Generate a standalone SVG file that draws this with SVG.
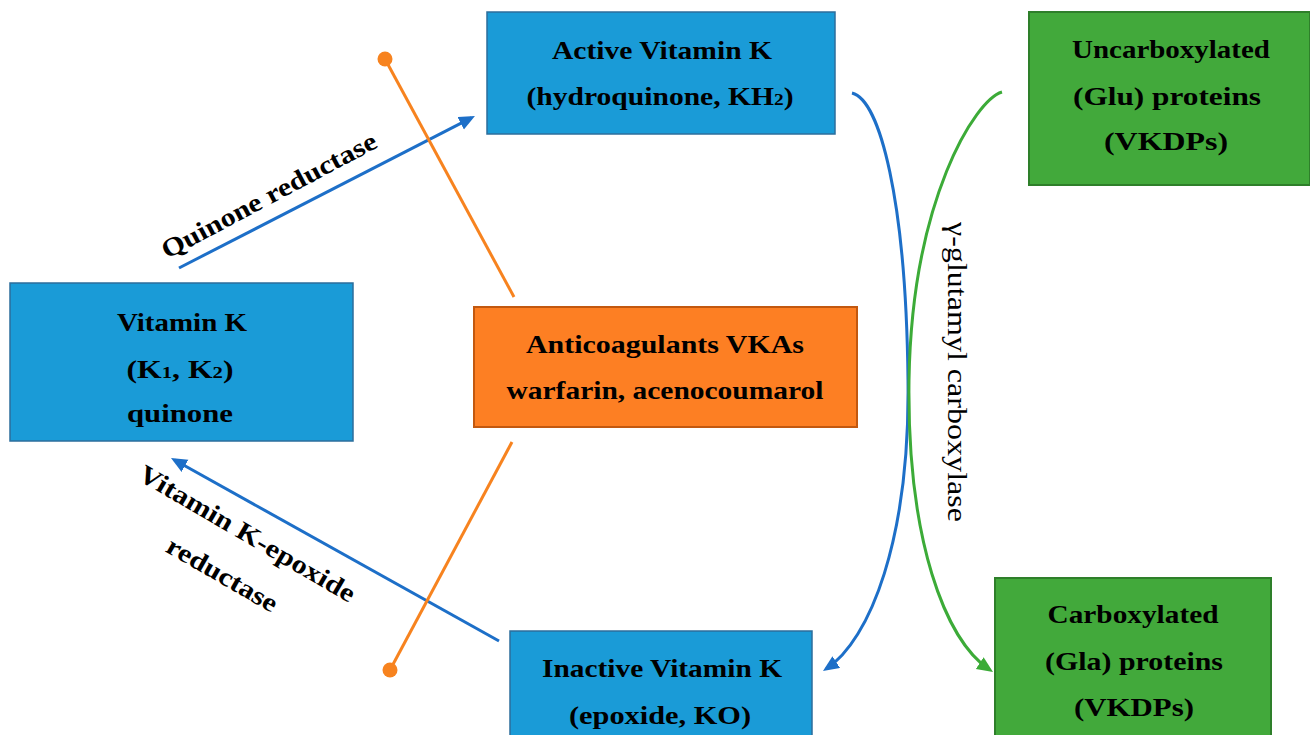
<svg xmlns="http://www.w3.org/2000/svg" width="1310" height="735" viewBox="0 0 1310 735">
<style>
  .bluebox { fill: #1a9bd7; stroke: #2c6e9c; stroke-width: 1.5; }
  .orangebox { fill: #fd7f23; stroke: #c2580f; stroke-width: 2; }
  .greenbox { fill: #42a93b; stroke: #2e7f2a; stroke-width: 2; }
  .lbl { font-family: "Liberation Serif", "Times New Roman", serif; font-weight: bold; font-size: 26px; fill: #000; text-anchor: middle; }
  .sub { font-size: 17px; }
  .vt { font-family: "Liberation Serif", "Times New Roman", serif; font-size: 28px; fill: #000; text-anchor: middle; }
  .bl { stroke: #1d6fc8; stroke-width: 3; fill: none; }
  .gr { stroke: #3cab38; stroke-width: 3; fill: none; }
  .or { stroke: #f7831f; stroke-width: 3; fill: none; }
</style>
<defs>
  <marker id="ab" markerUnits="userSpaceOnUse" markerWidth="18" markerHeight="16" refX="12" refY="7" orient="auto">
    <path d="M0,0 L16,7 L0,14 z" fill="#1d6fc8"/>
  </marker>
  <marker id="ag" markerUnits="userSpaceOnUse" markerWidth="18" markerHeight="16" refX="12" refY="7" orient="auto">
    <path d="M0,0 L16,7 L0,14 z" fill="#3cab38"/>
  </marker>
</defs>
<rect width="1310" height="735" fill="#fff"/>

<g id="connectors">
  <line class="bl" x1="179" y1="268" x2="471.4" y2="117.8" marker-end="url(#ab)"/>
  <line class="bl" x1="499" y1="641" x2="174.5" y2="460" marker-end="url(#ab)"/>
  <path class="bl" d="M852,93 C880,100 906,200 908,380 C910,540 870,640 826.3,668.8" marker-end="url(#ab)"/>
  <path class="gr" d="M1002,92 C975,100 912,200 909,380 C907,540 945,640 989.7,669.8" marker-end="url(#ag)"/>
  <line class="or" x1="385" y1="59" x2="514" y2="297"/>
  <circle cx="385" cy="59" r="7.5" fill="#f7831f"/>
  <line class="or" x1="512" y1="442" x2="390" y2="670"/>
  <circle cx="390" cy="670" r="7.5" fill="#f7831f"/>
  <text class="lbl" transform="translate(273,203) rotate(-28)" textLength="240" lengthAdjust="spacingAndGlyphs">Quinone reductase</text>
  <text class="lbl" transform="translate(243,541) rotate(30.3)" textLength="246" lengthAdjust="spacingAndGlyphs">Vitamin K-epoxide</text>
  <text class="lbl" transform="translate(218,582) rotate(30)" textLength="124" lengthAdjust="spacingAndGlyphs">reductase</text>
  <text class="vt" transform="translate(948,372) rotate(90)" textLength="300" lengthAdjust="spacingAndGlyphs">γ-glutamyl carboxylase</text>
</g>

<g id="active">
  <rect class="bluebox" x="487" y="12" width="348" height="122"/>
  <text class="lbl" x="662" y="59" textLength="220" lengthAdjust="spacingAndGlyphs">Active Vitamin K</text>
  <text class="lbl" x="660" y="105" textLength="267" lengthAdjust="spacingAndGlyphs">(hydroquinone, KH<tspan class="sub">2</tspan>)</text>
</g>

<g id="vitk">
  <rect class="bluebox" x="10" y="283" width="343" height="158"/>
  <text class="lbl" x="182" y="331" textLength="130" lengthAdjust="spacingAndGlyphs">Vitamin K</text>
  <text class="lbl" x="180" y="378" textLength="107" lengthAdjust="spacingAndGlyphs">(K<tspan class="sub">1</tspan>, K<tspan class="sub">2</tspan>)</text>
  <text class="lbl" x="180" y="422" textLength="106" lengthAdjust="spacingAndGlyphs">quinone</text>
</g>

<g id="anticoag">
  <rect class="orangebox" x="474" y="307" width="383" height="120"/>
  <text class="lbl" x="665" y="353" textLength="278" lengthAdjust="spacingAndGlyphs">Anticoagulants VKAs</text>
  <text class="lbl" x="665" y="399" textLength="317" lengthAdjust="spacingAndGlyphs">warfarin, acenocoumarol</text>
</g>

<g id="inactive">
  <rect class="bluebox" x="510" y="631" width="302" height="110"/>
  <text class="lbl" x="662" y="677" textLength="240" lengthAdjust="spacingAndGlyphs">Inactive Vitamin K</text>
  <text class="lbl" x="660" y="724" textLength="182" lengthAdjust="spacingAndGlyphs">(epoxide, KO)</text>
</g>

<g id="uncarb">
  <rect class="greenbox" x="1029" y="12" width="281" height="173"/>
  <text class="lbl" x="1171" y="58" textLength="198" lengthAdjust="spacingAndGlyphs">Uncarboxylated</text>
  <text class="lbl" x="1167" y="105" textLength="188" lengthAdjust="spacingAndGlyphs">(Glu) proteins</text>
  <text class="lbl" x="1166" y="150" textLength="124" lengthAdjust="spacingAndGlyphs">(VKDPs)</text>
</g>

<g id="carb">
  <rect class="greenbox" x="995" y="578" width="276" height="165"/>
  <text class="lbl" x="1133" y="623" textLength="171" lengthAdjust="spacingAndGlyphs">Carboxylated</text>
  <text class="lbl" x="1134" y="670" textLength="178" lengthAdjust="spacingAndGlyphs">(Gla) proteins</text>
  <text class="lbl" x="1134" y="716" textLength="120" lengthAdjust="spacingAndGlyphs">(VKDPs)</text>
</g>
</svg>
